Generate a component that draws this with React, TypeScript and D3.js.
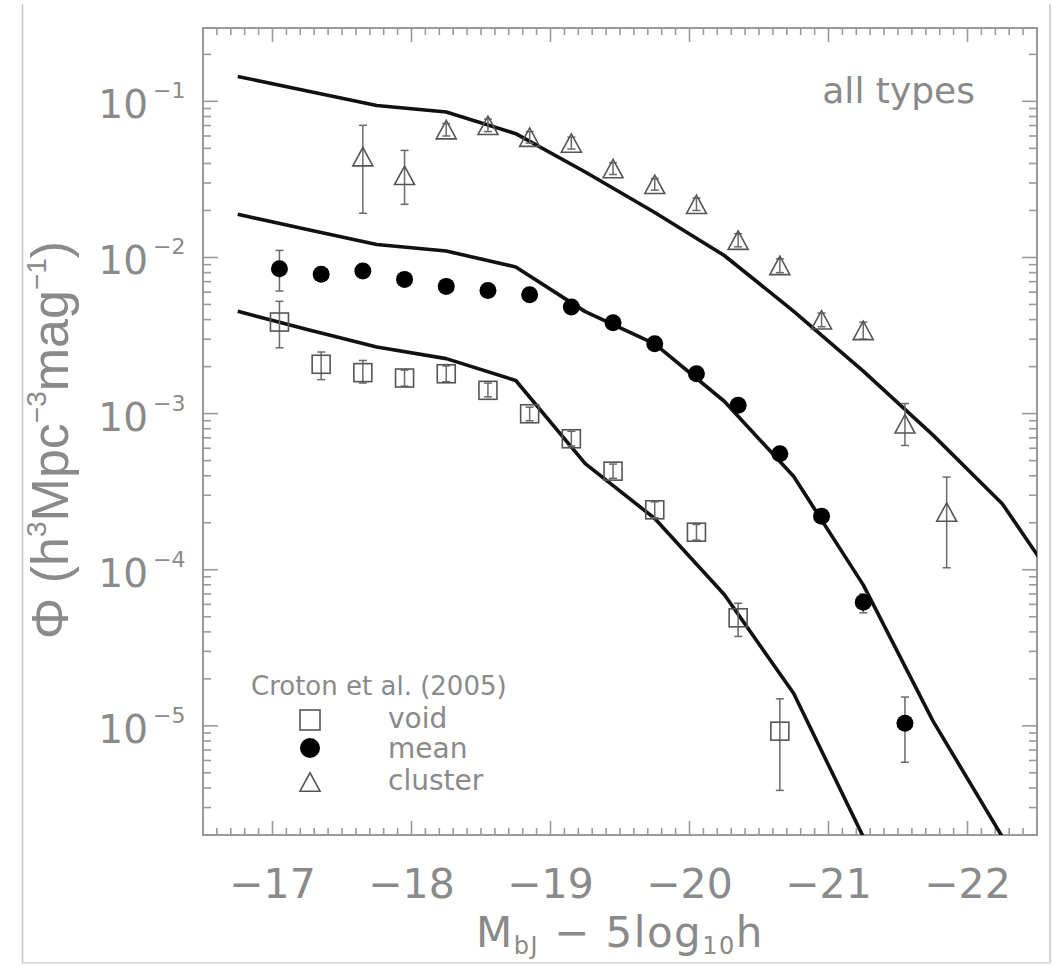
import React from "react";
import * as d3 from "d3";

// ---- data ----
const voidMag = [-17.05, -17.35, -17.65, -17.95, -18.25, -18.55, -18.85, -19.15, -19.45, -19.75, -20.05, -20.35, -20.65];
const voidPhi = [3.86e-3, 2.07e-3, 1.83e-3, 1.69e-3, 1.8e-3, 1.41e-3, 9.98e-4, 6.9e-4, 4.28e-4, 2.42e-4, 1.74e-4, 4.92e-5, 9.25e-6];
const voidLo = [2.64e-3, 1.65e-3, 1.57e-3, 1.5e-3, 1.6e-3, 1.28e-3, 9.0e-4, 6.2e-4, 3.85e-4, 2.15e-4, 1.55e-4, 3.74e-5, 3.86e-6];
const voidHi = [5.24e-3, 2.48e-3, 2.19e-3, 1.9e-3, 2.02e-3, 1.57e-3, 1.1e-3, 7.7e-4, 4.75e-4, 2.72e-4, 1.95e-4, 6.1e-5, 1.49e-5];

const meanMag = [-17.05, -17.35, -17.65, -17.95, -18.25, -18.55, -18.85, -19.15, -19.45, -19.75, -20.05, -20.35, -20.65, -20.95, -21.25, -21.55];
const meanPhi = [8.48e-3, 7.8e-3, 8.18e-3, 7.24e-3, 6.53e-3, 6.15e-3, 5.78e-3, 4.81e-3, 3.82e-3, 2.8e-3, 1.8e-3, 1.13e-3, 5.53e-4, 2.2e-4, 6.2e-5, 1.04e-5];
const meanLo = [6.1e-3, 7.4e-3, 7.8e-3, 6.9e-3, 6.2e-3, 5.85e-3, 5.5e-3, 4.55e-3, 3.6e-3, 2.65e-3, 1.7e-3, 1.06e-3, 5.15e-4, 2.02e-4, 5.3e-5, 5.85e-6];
const meanHi = [1.11e-2, 8.2e-3, 8.6e-3, 7.6e-3, 6.9e-3, 6.45e-3, 6.05e-3, 5.05e-3, 4.05e-3, 2.95e-3, 1.9e-3, 1.2e-3, 5.9e-4, 2.38e-4, 7.0e-5, 1.53e-5];

const clusterMag = [-17.65, -17.95, -18.25, -18.55, -18.85, -19.15, -19.45, -19.75, -20.05, -20.35, -20.65, -20.95, -21.25, -21.55, -21.85];
const clusterPhi = [4.42e-2, 3.36e-2, 6.59e-2, 7.02e-2, 5.9e-2, 5.41e-2, 3.71e-2, 2.94e-2, 2.19e-2, 1.29e-2, 8.9e-3, 3.99e-3, 3.41e-3, 8.6e-4, 2.34e-4];
const clusterLo = [1.92e-2, 2.19e-2, 6.0e-2, 6.4e-2, 5.4e-2, 4.95e-2, 3.4e-2, 2.7e-2, 2.0e-2, 1.17e-2, 8.0e-3, 3.6e-3, 3.0e-3, 6.25e-4, 1.03e-4];
const clusterHi = [7.02e-2, 4.85e-2, 7.2e-2, 7.7e-2, 6.4e-2, 5.9e-2, 4.05e-2, 3.2e-2, 2.4e-2, 1.42e-2, 9.8e-3, 4.4e-3, 3.85e-3, 1.16e-3, 3.92e-4];

const modelMag = [-16.75, -17.25, -17.75, -18.25, -18.75, -19.25, -19.75, -20.25, -20.75, -21.25, -21.75, -22.25, -22.75];
const clusterModel = [0.1445, 0.1164, 9.4e-2, 8.54e-2, 6.21e-2, 3.53e-2, 1.94e-2, 1.03e-2, 4.52e-3, 1.87e-3, 7.31e-4, 2.65e-4, 5.9e-5];
const meanModel = [1.89e-2, 1.51e-2, 1.21e-2, 1.1e-2, 8.69e-3, 4.5e-3, 2.8e-3, 1.2e-3, 3.95e-4, 8.0e-5, 1.08e-5, 1.95e-6];
const voidModel = [4.52e-3, 3.46e-3, 2.67e-3, 2.25e-3, 1.63e-3, 4.78e-4, 2.13e-4, 6.95e-5, 1.61e-5, 1.95e-6];

const xTickValues = [-17, -18, -19, -20, -21, -22];
const xTickLabels = ["\u221217", "\u221218", "\u221219", "\u221220", "\u221221", "\u221222"];
const yTickValues = [1e-1, 1e-2, 1e-3, 1e-4, 1e-5];
const yTickExps = ["\u22121", "\u22122", "\u22123", "\u22124", "\u22125"];

const legendTitle = "Croton et al. (2005)";
const legendNames = ["void", "mean", "cluster"];
const panelLabel = "all types";

// ---- layout ----
const W = 1053;
const H = 966;
const L = 203, R = 1037, T = 28, B = 835;
const FONT = "'DejaVu Sans', sans-serif";
const TXT = "#8a8a8a";
const AX = "#9a9a9a";

export default function App() {
  const x = d3.scaleLinear().domain([-16.5, -22.5]).range([L, R]);
  const y = d3.scaleLog().domain([2e-6, 0.295]).range([B, T]);

  const line = d3
    .line<[number, number]>()
    .x((d) => x(d[0]))
    .y((d) => y(d[1]));

  const models = [clusterModel, meanModel, voidModel].map((vals) =>
    vals.map((v, i) => [modelMag[i], v] as [number, number])
  );

  // ticks
  const xMinor = d3.range(0, 61).map((i) => -16.5 - i * 0.1);
  const yMinor: number[] = [];
  for (let e = -6; e <= -1; e++) {
    for (let m = 2; m <= 9; m++) {
      const v = m * Math.pow(10, e);
      if (v >= 2e-6 && v <= 0.295) yMinor.push(v);
    }
  }

  const tickEls: React.ReactNode[] = [];
  xMinor.forEach((v, i) => {
    const major = Math.abs(v - Math.round(v)) < 1e-6;
    const len = major ? 14 : 7;
    const px = x(v);
    tickEls.push(<line key={"xb" + i} x1={px} x2={px} y1={B} y2={B - len} />);
    tickEls.push(<line key={"xt" + i} x1={px} x2={px} y1={T} y2={T + len} />);
  });
  yMinor.forEach((v, i) => {
    const py = y(v);
    tickEls.push(<line key={"yl" + i} x1={L} x2={L + 8} y1={py} y2={py} />);
    tickEls.push(<line key={"yr" + i} x1={R} x2={R - 8} y1={py} y2={py} />);
  });
  yTickValues.forEach((v, i) => {
    const py = y(v);
    tickEls.push(<line key={"ylM" + i} x1={L} x2={L + 15} y1={py} y2={py} />);
    tickEls.push(<line key={"yrM" + i} x1={R} x2={R - 15} y1={py} y2={py} />);
  });

  const errBar = (key: string, m: number, lo: number, hi: number) => {
    const px = x(m);
    return (
      <g key={key}>
        <line x1={px} x2={px} y1={y(lo)} y2={y(hi)} />
        <line x1={px - 4} x2={px + 4} y1={y(lo)} y2={y(lo)} />
        <line x1={px - 4} x2={px + 4} y1={y(hi)} y2={y(hi)} />
      </g>
    );
  };

  const tri = (cx: number, cy: number, s: number) => {
    const h = s * 0.92;
    return `${cx - s / 2},${cy + h / 2} ${cx},${cy - h / 2} ${cx + s / 2},${cy + h / 2}`;
  };

  return (
    <svg
      width={W}
      height={H}
      viewBox={`0 0 ${W} ${H}`}
      style={{ position: "absolute", left: 0, top: 0, background: "#fff" }}
      fontFamily={FONT}
    >
      <rect x={0} y={0} width={W} height={H} fill="#fff" />
      {/* scan border lines */}
      <line x1={22.5} x2={22.5} y1={4} y2={963} stroke="#c4c4c4" strokeWidth={1.5} />
      <line x1={1050} x2={1050} y1={4} y2={963} stroke="#c4c4c4" strokeWidth={1.5} />
      <line x1={22} x2={1050} y1={963} y2={963} stroke="#dedede" strokeWidth={2} />

      <defs>
        <clipPath id="plotclip">
          <rect x={L} y={T} width={R - L} height={B - T} />
        </clipPath>
      </defs>

      {/* frame and ticks */}
      <rect x={L} y={T} width={R - L} height={B - T} fill="none" stroke={AX} strokeWidth={2} />
      <g stroke={AX} strokeWidth={1.6}>{tickEls}</g>

      {/* tick labels */}
      <g fill={TXT}>
        {yTickValues.map((v, i) => (
          <g key={"ytl" + i}>
            <text x={148} y={y(v) + 17} textAnchor="end" fontSize={39}>
              10
            </text>
            <text x={153} y={y(v) - 3} fontSize={22}>
              {yTickExps[i]}
            </text>
          </g>
        ))}
        {xTickValues.map((v, i) => (
          <text key={"xtl" + i} x={x(v)} y={898} textAnchor="middle" fontSize={41}>
            {xTickLabels[i]}
          </text>
        ))}
      </g>

      {/* axis titles */}
      <text x={620} y={947} textAnchor="middle" fontSize={42} fill={TXT} letterSpacing={1.5}>
        M
        <tspan fontSize={24} dy={7}>bJ</tspan>
        <tspan dy={-7}>{" \u2212 5log"}</tspan>
        <tspan fontSize={24} dy={7}>10</tspan>
        <tspan dy={-7}>h</tspan>
      </text>
      <text
        transform="translate(68,440) rotate(-90)"
        textAnchor="middle"
        fontSize={52}
        fill={TXT}
        fontFamily="'Liberation Sans', sans-serif"
      >
        {"\u03A6 (h"}
        <tspan fontSize={28} dy={-22}>3</tspan>
        <tspan dy={22}>Mpc</tspan>
        <tspan fontSize={28} dy={-22}>{"\u22123"}</tspan>
        <tspan dy={22}>mag</tspan>
        <tspan fontSize={28} dy={-22}>{"\u22121"}</tspan>
        <tspan dy={22}>)</tspan>
      </text>

      <text x={975} y={103} textAnchor="end" fontSize={36} fill={TXT}>
        {panelLabel}
      </text>

      {/* model curves */}
      <g clipPath="url(#plotclip)" fill="none" stroke="#111" strokeWidth={3.6} strokeLinejoin="round">
        {models.map((d, i) => (
          <path key={"model" + i} d={line(d) || ""} />
        ))}
      </g>

      {/* error bars */}
      <g stroke="#6a6a6a" strokeWidth={1.5} clipPath="url(#plotclip)">
        {voidMag.map((m, i) => errBar("ev" + i, m, voidLo[i], voidHi[i]))}
        {meanMag.map((m, i) => errBar("em" + i, m, meanLo[i], meanHi[i]))}
        {clusterMag.map((m, i) => errBar("ec" + i, m, clusterLo[i], clusterHi[i]))}
      </g>

      {/* data symbols */}
      <g fill="none" stroke="#555" strokeWidth={1.6}>
        {voidMag.map((m, i) => (
          <rect key={"sv" + i} x={x(m) - 9} y={y(voidPhi[i]) - 9} width={18} height={18} />
        ))}
        {clusterMag.map((m, i) => (
          <polygon key={"sc" + i} points={tri(x(m), y(clusterPhi[i]), 20)} />
        ))}
      </g>
      <g fill="#000">
        {meanMag.map((m, i) => (
          <circle key={"sm" + i} cx={x(m)} cy={y(meanPhi[i])} r={8.5} />
        ))}
      </g>

      {/* legend */}
      <text x={251} y={695} fontSize={26} fill={TXT}>
        {legendTitle}
      </text>
      <rect x={300} y={710} width={20} height={20} fill="none" stroke="#555" strokeWidth={1.6} />
      <circle cx={310} cy={748} r={10} fill="#000" />
      <polygon points={tri(310, 782, 20)} fill="none" stroke="#555" strokeWidth={1.6} />
      {legendNames.map((n, i) => (
        <text key={"ln" + i} x={388} y={[728, 758, 790][i]} fontSize={28} fill={TXT}>
          {n}
        </text>
      ))}
    </svg>
  );
}
